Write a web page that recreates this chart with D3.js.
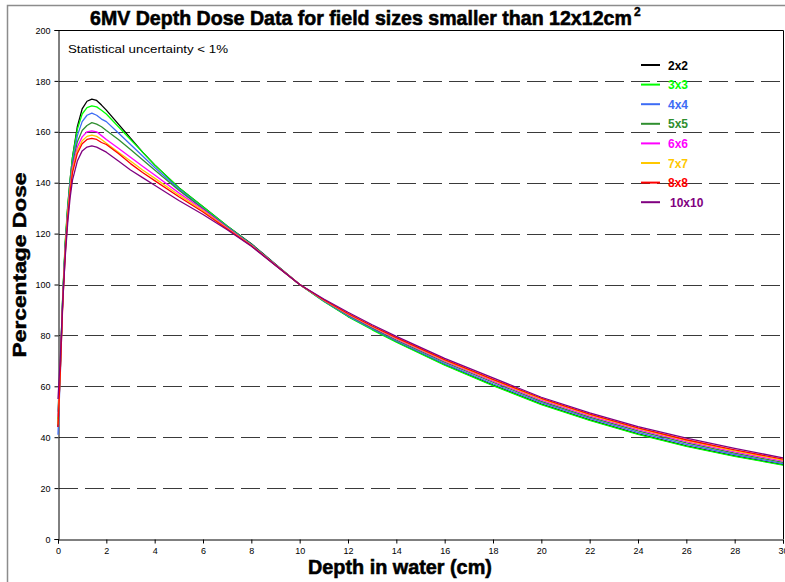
<!DOCTYPE html>
<html><head><meta charset="utf-8">
<script src="https://cdn.jsdelivr.net/npm/d3@7/dist/d3.min.js"></script>
<style>body{margin:0;background:#fff}svg{display:block}</style>
</head><body><svg id="c" width="785" height="582"></svg>
<script>
const depths = [0,0.1,0.2,0.3,0.4,0.5,0.6,0.8,1.0,1.2,1.4,1.6,1.8,2.0,2.5,3,3.5,4,5,6,7,8,9,10,11,12,13,14,16,18,20,22,24,26,28,30];
const fieldSizes = ["2x2","3x3","4x4","5x5","6x6","7x7","8x8","10x10"];
const seriesColors = ["#000000","#00ff00","#3d6cf5","#2f8f2f","#ff00ff","#ffc800","#ff0000","#800080"];
const dose2x2 = [44,68,96,116,130,141,150,162,169,172,172.8,172.3,170.5,168.5,163,157.5,152,147,138,130.5,123,116,108,100,93.5,87.5,82.5,77.5,68.5,60.5,53,46.8,41.3,36.6,32.7,29.2];
const dose3x3 = [47,70,97,117,131,141,150,161,167,169.5,170.2,169.8,168.5,167,162,157,152,147,138,130.5,123,115.8,107.8,100,93.3,87.4,82.2,77.3,68.3,60.3,52.8,46.6,41.1,36.4,32.5,29.0];
const dose4x4 = [41,66,95,115,129,140,148,158.5,164,166.5,167.3,166.5,165,164,159.5,155,150.5,146,137.5,130,122.7,115.7,107.8,100,93.5,87.7,82.6,77.8,68.9,61,53.6,47.4,41.9,37.2,33.2,29.6];
const dose5x5 = [50,70,96,115,129,139,147,156,160.5,162.5,163.6,163,162,160.5,157,153,149,145,137,129.8,122.5,115.5,107.7,100,93.7,88,83,78.2,69.5,61.6,54.1,47.9,42.5,37.8,33.7,30.1];
const dose6x6 = [48,69,95,114,128,138,146,154,158,160,160.4,160,158.5,157,153.5,150,146.5,143,136,129.5,122.3,115.4,107.7,100,93.8,88.2,83.3,78.6,69.9,62,54.6,48.4,43,38.3,34.2,30.6];
const dose7x7 = [45,68,94,113,127,137,145,152.5,156.5,158.2,158.7,158.2,157,155.5,152,148.5,145,141.8,135.2,129,122,115.3,107.6,100,93.9,88.4,83.5,78.9,70.2,62.4,55,48.8,43.4,38.7,34.6,31.0];
const dose8x8 = [44,67,93,112,126,136,144,151.5,155.3,157,157.4,157,155.8,155,151.5,147.5,144,140.8,134.5,128.5,121.8,115.2,107.6,100,94,88.6,83.7,79.1,70.5,62.7,55.3,49.1,43.7,39.0,35.0,31.4];
const dose10x10 = [55,72,94,111,124,134,141,148.5,152.5,154,154.5,154,153,152,148.5,145,142,139,133,127.5,121.5,115,107.5,100,94.3,89.1,84.2,79.6,71,63.3,55.7,49.6,44.2,39.6,35.6,31.9];
const doseSeries = [dose2x2,dose3x3,dose4x4,dose5x5,dose6x6,dose7x7,dose8x8,dose10x10];
const xTickValues = [0,2,4,6,8,10,12,14,16,18,20,22,24,26,28,30];
const yTickValues = [0,20,40,60,80,100,120,140,160,180,200];
const titleText = "6MV Depth Dose Data for field sizes smaller than 12x12cm";
const titleSup = "2";
const xTitle = "Depth in water (cm)";
const yTitle = "Percentage Dose";
const noteText = "Statistical uncertainty < 1%";

const svg = d3.select("#c");
const L = 58, R = 783, T = 30, B = 539;
const x = d3.scaleLinear().domain([0,30]).range([L,R]);
const y = d3.scaleLinear().domain([0,200]).range([B,T]);
const sans = "'Liberation Sans', Arial, sans-serif";

svg.append("rect").attr("width",785).attr("height",582).attr("fill","#fff");
svg.append("rect").attr("x",7.5).attr("y",5.5).attr("width",900).attr("height",700)
  .attr("fill","none").attr("stroke","#8c8c8c").attr("stroke-width",1.5);

// gridlines
svg.append("g").selectAll("line").data(yTickValues.filter(v=>v>0&&v<200)).join("line")
  .attr("x1",L+1).attr("x2",R).attr("y1",d=>Math.round(y(d))+0.5).attr("y2",d=>Math.round(y(d))+0.5)
  .attr("stroke","#3a3a3a").attr("stroke-width",1).attr("stroke-dasharray","19,7");

// plot border top/right
svg.append("path").attr("d",`M${L},${T+0.5}H${R+0.5}V${B}`).attr("fill","none").attr("stroke","#000").attr("stroke-width",1);

const tickFont = "'Liberation Sans Narrow', 'Arial Narrow', sans-serif";
const yAxis = svg.append("g").attr("transform",`translate(${L+0.5},0)`)
  .call(d3.axisLeft(y).tickValues(yTickValues).tickSize(4).tickPadding(4).tickFormat(d3.format("d")));
const xAxis = svg.append("g").attr("transform",`translate(0,${B+0.5})`)
  .call(d3.axisBottom(x).tickValues(xTickValues).tickSize(4).tickPadding(4).tickFormat(d3.format("d")));
[yAxis,xAxis].forEach(a=>{
  a.selectAll("path,line").attr("stroke","#000");
  a.selectAll("text").attr("font-family",tickFont).attr("font-size",9).attr("fill","#000");
});
yAxis.selectAll("text").attr("dy","0.35em");

// series
const line = d3.line().x((d,i)=>x(depths[i])).y(d=>y(d));
svg.append("g").selectAll("path").data(doseSeries).join("path")
  .attr("d",d=>line(d)).attr("fill","none")
  .attr("stroke",(d,i)=>seriesColors[i]).attr("stroke-width",1.3).attr("stroke-linejoin","round");

// legend
const lg = svg.append("g");
fieldSizes.forEach((f,i)=>{
  const yy = 65 + i*19.6;
  lg.append("line").attr("x1",641).attr("x2",660).attr("y1",yy).attr("y2",yy)
    .attr("stroke",seriesColors[i]).attr("stroke-width",2);
  lg.append("text").attr("x", i===7?670:668).attr("y",yy+4.5).text(f)
    .attr("font-family",sans).attr("font-weight","bold")
    .attr("font-size",12).attr("fill",seriesColors[i]);
});

// note
svg.append("text").attr("x",68).attr("y",53).text(noteText)
  .attr("font-family",sans).attr("font-size",11).attr("fill","#000")
  .attr("textLength",160).attr("lengthAdjust","spacingAndGlyphs");

// horizontally-fitted text helper (scales glyphs to a target width)
function fitText(el, x0, y0, targetW, anchor) {
  const w = el.node().getComputedTextLength();
  const s = targetW / w;
  const left = anchor === "middle" ? x0 - targetW/2 : x0;
  el.attr("transform", `translate(${left},${y0}) scale(${s},1)`);
}

// title
const tEl = svg.append("text").attr("x",0).attr("y",0).text(titleText)
  .attr("font-family",sans).attr("font-weight","bold").attr("font-size",21).attr("fill","#000")
  .attr("stroke","#000").attr("stroke-width",0.6);
fitText(tEl, 90, 25, 542);
svg.append("text").attr("x",634).attr("y",16).text(titleSup)
  .attr("font-family",sans).attr("font-weight","bold").attr("font-size",12).attr("fill","#000")
  .attr("stroke","#000").attr("stroke-width",0.4);

const xEl = svg.append("text").attr("x",0).attr("y",0).text(xTitle)
  .attr("font-family",sans).attr("font-weight","bold").attr("font-size",21)
  .attr("stroke","#000").attr("stroke-width",0.6);
fitText(xEl, 400, 574, 184, "middle");

svg.append("text").attr("transform","translate(26,265) rotate(-90) scale(1,0.8)").attr("text-anchor","middle").text(yTitle)
  .attr("font-family",sans).attr("font-weight","bold").attr("font-size",22)
  .attr("stroke","#000").attr("stroke-width",0.6)
  .attr("textLength",185).attr("lengthAdjust","spacingAndGlyphs");
</script></body></html>
